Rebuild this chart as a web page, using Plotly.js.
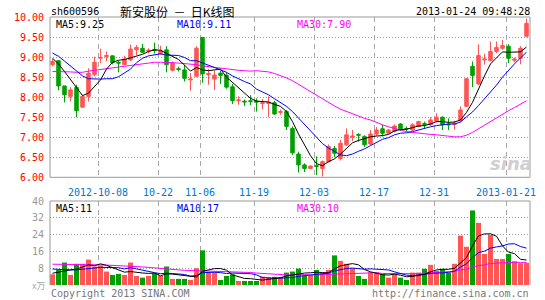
<!DOCTYPE html>
<html><head><meta charset="utf-8">
<script src="https://cdn.plot.ly/plotly-3.0.1.min.js"></script>
<style>html,body{margin:0;padding:0;background:#fff;}#chart{width:545px;height:300px;}</style>
</head><body><div id="chart"></div>
<script>
// ---- data ----
const openP  = [8.81,8.91,8.28,8.02,8.24,7.75,8.02,8.56,8.97,9.01, 9.03,8.87,8.81,8.93,9.18,9.22,9.15,9.19,9.09,9.18, 8.67,8.71,8.68,8.43,8.52,9.49,8.56,8.45,8.60,8.55, 8.26,7.91,7.90,7.91,7.90,7.84,7.84,7.86,7.62,7.64, 7.22,6.58,6.31,6.22,6.29,6.22,6.39,6.72,6.47,6.81, 7.00,7.07,7.02,6.83,7.08,7.21,7.10,7.14,7.33,7.22, 7.18,7.27,7.34,7.31,7.40,7.50,7.33,7.32,7.41,7.77, 8.77,8.33,8.93,8.91,9.14,9.22,9.27,8.92,8.97,9.52];
const highP  = [8.95,8.93,8.28,8.25,8.31,8.06,8.72,9.01,9.21,9.14, 9.04,8.90,9.03,9.31,9.30,9.33,9.22,9.36,9.28,9.27, 8.89,8.76,8.81,8.60,9.27,9.50,8.70,8.66,8.66,8.62, 8.33,8.02,7.94,8.05,7.97,7.95,8.02,7.91,7.69,7.68, 7.27,6.64,6.35,6.30,6.52,6.42,6.82,6.78,6.93,7.22, 7.18,7.10,7.05,7.18,7.25,7.31,7.20,7.32,7.35,7.27, 7.35,7.41,7.39,7.50,7.60,7.52,7.47,7.41,7.77,8.48, 8.89,9.32,9.08,9.39,9.39,9.43,9.32,8.99,9.27,9.96];
const lowP   = [8.77,8.17,7.87,7.89,7.50,7.73,7.89,8.52,8.85,8.90, 8.82,8.62,8.80,8.90,9.05,9.10,9.09,9.09,9.06,8.62, 8.64,8.64,8.39,8.16,8.50,8.36,8.31,8.18,8.33,8.21, 7.83,7.81,7.78,7.80,7.64,7.70,7.50,7.55,7.56,7.18, 6.56,6.12,6.13,6.20,6.06,6.02,6.37,6.50,6.42,6.78, 6.91,6.89,6.76,6.80,7.04,7.02,7.08,7.12,7.16,7.14, 7.16,7.25,7.22,7.29,7.37,7.18,7.18,7.19,7.38,7.75, 8.25,8.30,8.81,8.90,9.10,9.18,8.85,8.87,8.82,9.50];
const closeP = [8.89,8.28,8.06,8.18,7.66,8.02,8.60,8.87,8.99,9.04, 8.86,8.85,8.95,9.20,9.24,9.12,9.17,9.17,9.16,8.81, 8.85,8.69,8.47,8.45,9.22,8.58,8.59,8.55,8.54,8.25, 7.91,7.93,7.88,7.89,7.88,7.86,7.87,7.58,7.64,7.27, 6.61,6.31,6.22,6.28,6.27,6.39,6.77,6.60,6.85,7.06, 7.03,7.05,6.81,7.08,7.18,7.10,7.18,7.28,7.21,7.21, 7.31,7.39,7.32,7.43,7.50,7.31,7.31,7.35,7.68,8.46, 8.54,9.04,8.95,9.14,9.24,9.29,8.97,8.95,9.22,9.84];

const priceMa5  = [8.97,8.83,8.64,8.44,8.21,8.04,8.10,8.27,8.43,8.70, 8.87,8.92,8.94,8.98,9.02,9.07,9.14,9.18,9.17,9.09, 9.03,8.94,8.80,8.65,8.74,8.68,8.66,8.68,8.70,8.50, 8.37,8.24,8.10,7.97,7.90,7.89,7.88,7.82,7.77,7.64, 7.39,7.08,6.81,6.54,6.34,6.29,6.39,6.46,6.58,6.73, 6.86,6.92,6.96,7.01,7.03,7.04,7.07,7.16,7.19,7.20, 7.24,7.28,7.29,7.33,7.39,7.39,7.37,7.38,7.43,7.62, 7.87,8.21,8.53,8.83,8.98,9.13,9.12,9.12,9.13,9.25];
const priceMa10 = [9.10,9.02,8.90,8.78,8.64,8.53,8.46,8.45,8.45,8.46, 8.46,8.51,8.60,8.70,8.86,8.97,9.03,9.06,9.08,9.05, 9.05,9.04,8.99,8.91,8.91,8.86,8.80,8.74,8.68,8.62, 8.53,8.45,8.39,8.33,8.20,8.13,8.06,7.96,7.87,7.77, 7.64,7.48,7.31,7.15,6.99,6.84,6.73,6.64,6.56,6.54, 6.58,6.65,6.71,6.79,6.88,6.95,6.99,7.06,7.10,7.11, 7.14,7.18,7.23,7.26,7.29,7.31,7.33,7.33,7.38,7.51, 7.63,7.79,7.96,8.13,8.30,8.50,8.67,8.83,8.98,9.12];
const priceMa30 = [8.64,8.64,8.64,8.63,8.62,8.62,8.65,8.67,8.69,8.71, 8.73,8.76,8.78,8.80,8.82,8.84,8.86,8.87,8.87,8.87, 8.86,8.85,8.84,8.82,8.81,8.78,8.76,8.74,8.72,8.71, 8.68,8.67,8.66,8.65,8.66,8.65,8.63,8.59,8.54,8.48, 8.41,8.32,8.23,8.13,8.03,7.94,7.86,7.78,7.70,7.64, 7.58,7.53,7.47,7.43,7.36,7.31,7.26,7.22,7.17,7.14, 7.12,7.10,7.08,7.07,7.06,7.04,7.02,7.01,7.01,7.05, 7.12,7.21,7.30,7.39,7.49,7.59,7.66,7.74,7.82,7.91];

const volume  = [5.1,7.2,10.7,4.8,10.1,10.1,12.1,8.8,9.3,6.4, 4.8,5.3,4.8,10.7,4.3,3.5,4.3,5.6,4.3,8.8, 2.9,2.9,2.9,2.4,8.0,16.5,6.1,6.1,2.4,4.3, 5.1,1.9,1.9,1.9,1.9,4.0,3.8,3.9,3.8,5.9, 6.4,7.8,4.5,4.5,7.2,5.6,7.2,14.1,11.5,10.1, 8.0,4.3,2.9,6.1,6.1,5.1,3.5,5.1,3.5,2.4, 5.9,5.9,7.7,9.6,6.7,7.6,5.8,10.1,23.5,18.2, 35.5,29.6,14.8,23.8,12.4,12.4,14.8,11.3,10.4,10.5];
const volMa5  = [5.6,6.2,6.8,7.2,7.58,8.58,9.56,9.18,10.08,9.34, 8.28,6.92,6.12,6.40,5.98,5.72,5.52,5.68,4.40,5.30, 5.18,4.90,4.36,3.98,3.82,6.54,7.18,7.82,7.82,7.08, 4.80,3.96,3.12,3.02,2.54,2.32,2.70,3.10,3.48,4.28, 4.76,5.56,5.68,5.82,6.08,5.92,5.80,7.72,9.12,9.70, 10.18,9.60,7.36,6.28,5.48,4.90,4.74,5.18,4.66,3.92, 4.08,4.56,5.08,6.30,7.16,7.50,7.48,7.96,10.74,13.04, 18.62,23.38,24.32,24.38,23.22,18.60,15.64,14.94,12.26,11.88];
const volMa10 = [7.6,7.4,7.3,7.2,7.2,7.4,7.8,8.1,8.4,8.46, 8.43,8.24,7.65,8.24,7.66,7.00,6.22,5.90,5.40,5.64, 5.45,5.21,5.02,4.19,4.56,5.86,6.04,6.09,5.90,5.45, 5.67,5.57,5.47,5.42,4.81,3.56,3.33,3.11,3.25,3.41, 3.54,4.13,4.39,4.65,5.18,5.34,5.68,6.70,7.47,7.89, 8.05,7.70,7.54,7.70,7.59,7.54,7.17,6.27,5.47,4.70, 4.49,4.65,5.13,5.48,5.54,5.79,6.02,6.52,8.52,10.10, 13.06,15.43,16.14,17.56,18.13,18.61,19.51,19.63,18.32,17.55];
const volMa30 = [9.9,9.9,9.8,9.8,9.7,9.7,9.7,9.6,9.6,9.5, 9.4,9.3,9.1,8.9,8.8,8.6,8.4,8.1,7.8,7.6, 7.4,7.2,7.0,6.9,6.8,6.7,6.7,6.6,6.6,6.52, 6.52,6.34,6.05,5.95,5.68,5.47,5.20,5.03,4.85,4.83, 4.89,4.97,4.96,4.75,4.85,4.92,5.02,5.30,5.54,5.58, 5.75,5.80,5.80,5.92,5.86,5.48,5.39,5.36,5.40,5.33, 5.36,5.49,5.69,5.94,6.10,6.22,6.29,6.50,7.15,7.56, 8.53,9.26,9.60,10.25,10.42,10.65,10.90,10.81,10.77,10.78];

const dateTickIndex = [8,18,25,34,44,54,64,76];
const dateTickLabels = ["2012-10-08","10-22","11-06","11-19","12-03","12-17","12-31","2013-01-21"];
const priceTicks = [6,6.5,7,7.5,8,8.5,9,9.5,10];
const volTicks = [8,16,24,32,40];
const priceMaLabels = ["MA5:9.25","MA10:9.11","MA30:7.90"];
const volMaLabels = ["MA5:11","MA10:17","MA30:10"];

// ---- drawing ----
const N = closeP.length;
const xs = closeP.map((_, i) => i);
const UP = '#FF5555', DOWN = '#00A000';
const volColors = closeP.map((c, i) => c >= openP[i] ? UP : DOWN);
const gridX = dateTickIndex.map(i => i - 0.4167);
const XR = [-0.4167, N - 0.4167];
const mono = '"DejaVu Sans Mono", "Liberation Mono", monospace';

const lineT = (y, color, xa, ya) => ({type:'scatter', mode:'lines', x:xs, y:y, xaxis:xa, yaxis:ya,
  line:{color:color, width:1}, hoverinfo:'skip'});

const traces = [
  {type:'candlestick', x:xs, open:openP, high:highP, low:lowP, close:closeP, xaxis:'x', yaxis:'y',
   increasing:{line:{color:UP, width:1}, fillcolor:UP},
   decreasing:{line:{color:DOWN, width:1}, fillcolor:DOWN}, whiskerwidth:0, hoverinfo:'skip'},
  lineT(priceMa30, '#FF00FF', 'x', 'y'),
  lineT(priceMa10, '#0000FF', 'x', 'y'),
  lineT(priceMa5, '#000000', 'x', 'y'),
  {type:'bar', x:xs, y:volume, xaxis:'x2', yaxis:'y2', width:0.84,
   marker:{color:volColors, line:{width:0}}, hoverinfo:'skip'},
  lineT(volMa30, '#FF00FF', 'x2', 'y2'),
  lineT(volMa10, '#0000FF', 'x2', 'y2'),
  lineT(volMa5, '#000000', 'x2', 'y2')
];

const L = 50, R = 530, T = 17, B = 285;
const ax = px => (px - L) / (R - L);
const ay = py => (B - py) / (B - T);
const ann = (text, px, py, xanchor, color, size, family, extra) => Object.assign({
  text:text, x:ax(px), y:ay(py), xref:'paper', yref:'paper', xanchor:xanchor, yanchor:'middle',
  showarrow:false, borderpad:0, font:{family:family || mono, size:size || 10, color:color || '#000'}}, extra || {});

const gridCol = '#a8a8a8';
const NB = '\u00a0';
const layout = {
  width:545, height:300,
  margin:{l:L, r:545 - R, t:T, b:300 - B, pad:0},
  paper_bgcolor:'#fff', plot_bgcolor:'#fff',
  showlegend:false, boxgap:0.17, bargap:0.17, hovermode:false,
  xaxis:{domain:[0,1], anchor:'y', range:XR, tickmode:'array', tickvals:gridX, ticktext:dateTickLabels,
    tickfont:{family:mono, size:10, color:'#0077CC'}, showgrid:true, gridcolor:gridCol, griddash:'5px,4px',
    gridwidth:1, zeroline:false, showline:false, ticks:'', ticklabelstandoff:8,
    rangeslider:{visible:false}, fixedrange:true},
  yaxis:{domain:[(B-177.3)/(B-T), 1], anchor:'x', range:[6,10], tickmode:'array', tickvals:priceTicks,
    tickformat:'.2f', tickfont:{family:mono, size:10, color:'#FF0000'}, showgrid:true, gridcolor:'#9a9a9a',
    griddash:'1px,2px', zeroline:false, showline:false, ticks:'outside', ticklen:3, tickcolor:'rgba(0,0,0,0)', fixedrange:true},
  xaxis2:{domain:[0,1], anchor:'y2', range:XR, tickmode:'array', tickvals:gridX, showticklabels:false,
    showgrid:true, gridcolor:gridCol, griddash:'5px,4px', zeroline:false, showline:false, fixedrange:true},
  yaxis2:{domain:[0,(B-201)/(B-T)], anchor:'x2', range:[0,40], tickmode:'array', tickvals:volTicks,
    tickfont:{family:mono, size:10, color:'#999'}, showgrid:true, gridcolor:'#9a9a9a', griddash:'1px,2px',
    zeroline:false, showline:false, ticks:'outside', ticklen:3, tickcolor:'rgba(0,0,0,0)', fixedrange:true},
  shapes:[
    {type:'rect', xref:'x domain', yref:'y domain', x0:0, x1:1, y0:0, y1:1, line:{color:'#999', width:1}},
    {type:'line', xref:'x2 domain', yref:'y2 domain', x0:0, x1:1, y0:1, y1:1, line:{color:'#999', width:1}},
    {type:'line', xref:'x2 domain', yref:'y2 domain', x0:0, x1:0, y0:0, y1:1, line:{color:'#999', width:1}},
    {type:'line', xref:'x2 domain', yref:'y2 domain', x0:1, x1:1, y0:0, y1:1, line:{color:'#999', width:1}}
  ],
  annotations:[
    ann('sh600596', 50, 12, 'left'),
    ann('新安股份' + NB + NB + '－' + NB + NB + '日K线图', 177, 12, 'center', '#000', 12, '"Noto Sans CJK SC", sans-serif'),
    ann('2013-01-24 09:48:28', 531, 12, 'right'),
    ann(priceMaLabels[0], 55, 25, 'left', '#000'),
    ann(priceMaLabels[1], 176, 25, 'left', '#0000FF'),
    ann(priceMaLabels[2], 296, 25, 'left', '#FF00FF'),
    ann(volMaLabels[0], 55, 208, 'left', '#000'),
    ann(volMaLabels[1], 176, 208, 'left', '#0000FF'),
    ann(volMaLabels[2], 296, 208, 'left', '#FF00FF'),
    ann('x万', 38, 285, 'center', '#aaa', 9, '"Noto Sans CJK SC", sans-serif'),
    ann('Copyright 2013 SINA.COM', 50, 293, 'left', '#777'),
    ann('http://finance.sina.com.cn', 530, 293, 'right', '#777'),
    ann('<b><i>sina</i></b>', 511, 163, 'center', '#cfcfcf', 18, 'Verdana, "DejaVu Sans", sans-serif')
  ]
};

Plotly.newPlot('chart', traces, layout, {displayModeBar:false, staticPlot:true});
</script>
</body></html>
